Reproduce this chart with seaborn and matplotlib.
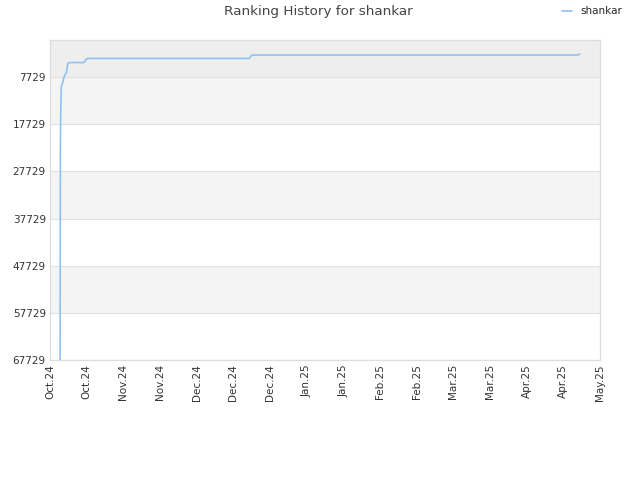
import matplotlib
matplotlib.use("Agg")
import matplotlib.pyplot as plt
import matplotlib.dates as mdates
import numpy as np
import pandas as pd
import seaborn as sns

# ranking history (lower rank = better)
dates = [
    "2024-10-08 00:00", "2024-10-08 03:00", "2024-10-08 06:00", "2024-10-08 12:00",
    "2024-10-09 00:00", "2024-10-09 12:00", "2024-10-10 00:00", "2024-10-10 12:00",
    "2024-10-10 20:00", "2024-10-11 00:00", "2024-10-11 12:00", "2024-10-17 12:00",
    "2024-10-18 06:00", "2024-10-19 00:00", "2024-12-22 00:00", "2024-12-23 00:00",
    "2025-05-01 00:00", "2025-05-02 00:00",
]
ranks = [
    67729, 21000, 15700, 9700,
    9000, 7800, 7200, 6800,
    5600, 5000, 4650, 4650,
    4000, 3780, 3780, 3060,
    3060, 2850,
]
user = "shankar"
y_ticks = [7729, 17729, 27729, 37729, 47729, 57729, 67729]
x_range = ("2024-10-04", "2025-05-10")

df = pd.DataFrame({"date": pd.to_datetime(dates), "rank": ranks, "user": user})

sns.set_style("white")
plt.rcParams["font.family"] = ["DejaVu Sans"]

fig = plt.figure(figsize=(6.4, 4.8), dpi=100)
ax = fig.add_axes([50 / 640, 120 / 480, 550 / 640, 320 / 480])

# alternating background bands between the y ticks
top = -130
ax.axhspan(top, y_ticks[0], color="#eeeeee", zorder=0, lw=0)
for i in range(len(y_ticks) - 1):
    if i % 2 == 0:
        ax.axhspan(y_ticks[i], y_ticks[i + 1], color="#f4f4f4", zorder=0, lw=0)

sns.lineplot(data=df, x="date", y="rank", hue="user", palette=["#8fc1f3"],
             linewidth=1.2, ax=ax, zorder=3)

ax.set_ylim(y_ticks[-1], top)
ax.set_yticks(y_ticks)
ax.set_yticklabels([str(v) for v in y_ticks])
ax.yaxis.grid(True, color="#e2e2e2", linewidth=0.8, zorder=1)
ax.set_axisbelow(True)

x0, x1 = mdates.date2num(pd.to_datetime(list(x_range)))
ax.set_xlim(x0, x1)
xt = np.linspace(x0, x1, 16)
ax.set_xticks(xt)
ax.set_xticklabels([mdates.num2date(t).strftime("%b.%y") for t in xt], rotation=90)

ax.tick_params(axis="both", labelsize=7.5, colors="#333333", length=0, pad=3)
for s in ax.spines.values():
    s.set_color("#dddddd")
    s.set_linewidth(0.9)
ax.set_xlabel("")
ax.set_ylabel("")

ax.legend(loc="upper right", bbox_to_anchor=(630 / 640, 481 / 480), bbox_transform=fig.transFigure,
          frameon=False, fontsize=7.5, handlelength=1.0, handletextpad=0.8, borderaxespad=0.3)
fig.text(318 / 640, 468 / 480, f"Ranking History for {user}", ha="center", va="center",
         fontsize=9.7, color="#444444")

fig.savefig("out.png", dpi=100)
